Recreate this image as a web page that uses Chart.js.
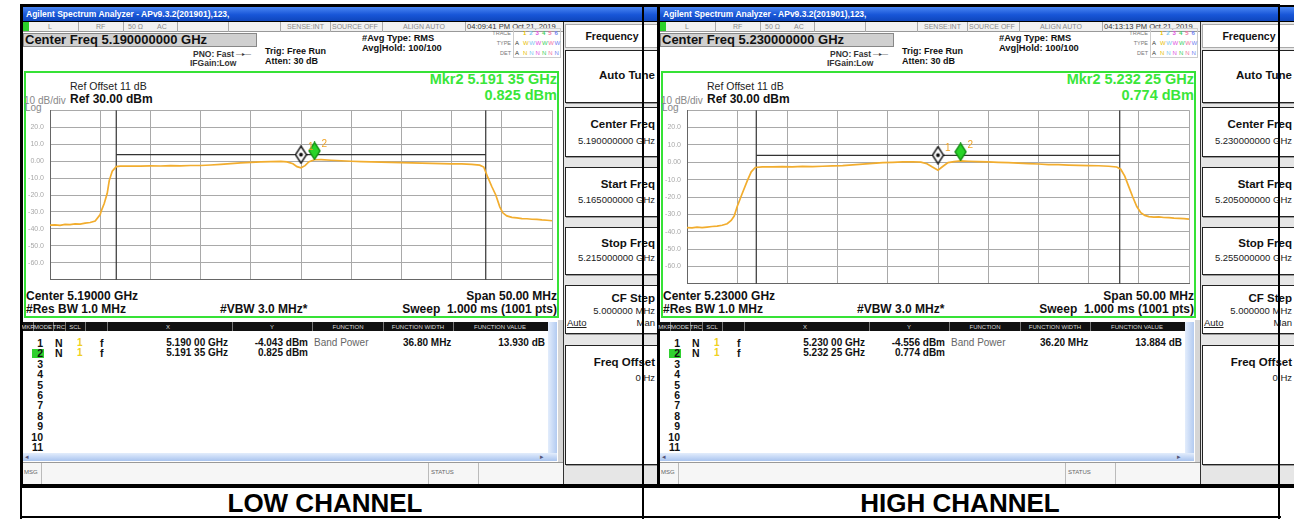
<!DOCTYPE html>
<html>
<head>
<meta charset="utf-8">
<script src="https://cdn.jsdelivr.net/npm/chart.js@4.4.1/dist/chart.umd.min.js"></script>
<style>
  body { margin: 0; background: #fff; }
  #page { position: relative; width: 1300px; height: 519px; overflow: hidden; background: #fff;
          font-family: "Liberation Sans", Arial, sans-serif; color: #111; }
  .abs { position: absolute; white-space: nowrap; box-sizing: border-box; }
</style>
</head>
<body>
<div id="page"></div>
<script>
// sweep settings, MHz
const centersMHz = [5190, 5230];
const spanMHz = 50;
const yTicks = [30, 20, 10, 0, -10, -20, -30, -40, -50, -60, -70];

// trace 1, low channel: offset from start freq (MHz) and level (dBm)
const lowTraceMHz = [
    0, 0.5, 1, 1.5, 2, 2.5, 3, 3.5, 4, 4.5,
    5, 5.1, 5.4, 5.7, 5.9, 6.2, 6.6, 7, 8, 9,
    10, 11, 12, 13, 14, 15, 16, 17, 18, 19,
    20, 21, 22, 23, 23.6, 24.2, 24.6, 25, 25.4, 25.8,
    26.35, 27, 28, 29, 30, 31, 32, 33, 34, 35,
    36, 37, 38, 39, 40, 41, 42, 42.8, 43.2, 43.6,
    44, 44.4, 44.8, 45.1, 45.5, 46, 46.5, 47, 47.5, 48,
    48.5, 49, 49.5, 50];
const lowTraceDbm = [
    -37.8, -37.6, -37.9, -37.3, -37.5, -37.0, -37.2, -36.6, -36.2, -35.4,
    -31.5, -29.5, -25.0, -19.0, -11.5, -6.0, -3.3, -3.0, -2.9, -3.0,
    -2.8, -2.9, -2.7, -2.8, -2.6, -2.6, -2.3, -1.9, -1.5, -1.1,
    -0.8, -0.5, -0.3, -0.2, -0.5, -1.6, -3.3, -4.0, -2.7, -0.4,
    0.8, 0.9, 0.5, 0.2, -0.1, -0.3, -0.5, -0.6, -0.8, -0.9,
    -1.1, -1.2, -1.3, -1.5, -1.6, -1.7, -1.9, -2.4, -3.5, -9.5,
    -15.0, -20.0, -27.0, -30.5, -32.3, -33.2, -33.5, -33.9, -34.0, -34.3,
    -34.4, -34.7, -34.9, -35.2];

// trace 1, high channel
const highTraceMHz = [
    0, 0.5, 1, 1.5, 2, 2.5, 3, 3.5, 4, 4.4,
    4.7, 5.0, 5.5, 6.0, 6.4, 6.8, 7.5, 8.5, 9.5, 10.5,
    11.5, 12.5, 13.5, 14.5, 15.5, 16.5, 17.5, 18.5, 19.5, 20.5,
    21.5, 22.5, 23.3, 23.9, 24.4, 25, 25.5, 26, 26.6, 27.25,
    28, 29, 30, 31, 32, 33, 34, 35, 36, 37,
    38, 39, 40, 41, 42, 42.8, 43.2, 43.6, 44.0, 44.4,
    44.8, 45.2, 45.6, 46, 46.5, 47, 47.5, 48, 48.5, 49,
    49.5, 50];
const highTraceDbm = [
    -37.6, -37.8, -37.4, -37.6, -37.3, -37.0, -36.8, -36.3, -35.4, -33.5,
    -31.0, -25.5, -18.0, -10.7, -5.5, -3.0, -2.6, -2.7, -2.5, -2.6,
    -2.4, -2.5, -2.3, -2.1, -1.9, -1.5, -1.1, -0.6, -0.2, 0.0,
    0.2, 0.3, 0.1, -0.8, -2.6, -4.6, -2.3, -0.2, 0.4, 0.8,
    0.6, 0.4, 0.2, 0.0, -0.2, -0.5, -0.8, -1.0, -1.3, -1.4,
    -1.6, -1.8, -1.9, -2.0, -2.3, -2.7, -4.0, -8.0, -14.0, -20.0,
    -25.5, -29.0, -30.6, -31.3, -31.6, -31.5, -31.8, -31.9, -32.2, -32.3,
    -32.5, -32.8];

// markers (MHz / dBm) and the level the diamonds are drawn at
const lowMarkerMHz = [5190.00, 5191.35];
const lowMarkerDbm = [-4.043, 0.825];
const lowMarkerIconDbm = [3.8, 6.0];
const highMarkerMHz = [5230.00, 5232.25];
const highMarkerDbm = [-4.556, 0.774];
const highMarkerIconDbm = [4.1, 6.0];

// band power function
const bandWidthMHz = [36.80, 36.20];
const bandPowerDb = [13.930, 13.884];
const bandLevelDbm = [3.8, 4.0];
const timeStamps = ['04:09:41 PM Oct 21, 2019', '04:13:13 PM Oct 21, 2019'];

const FONT = '"Liberation Sans", Arial, sans-serif';
const page = document.getElementById('page');

function div(parent, css, html) {
    const d = document.createElement('div');
    d.className = 'abs';
    Object.assign(d.style, css);
    if (html != null) d.innerHTML = html;
    parent.appendChild(d);
    return d;
}
function rect(parent, x, y, w, h, css) {
    return div(parent, Object.assign({ left: x + 'px', top: y + 'px', width: w + 'px', height: h + 'px' }, css));
}
function text(parent, x, y, s, size, css, align) {
    const h = 20;
    const base = { top: (y - h / 2) + 'px', height: h + 'px', lineHeight: h + 'px', fontSize: size + 'px' };
    if (align === 'right') Object.assign(base, { left: (x - 400) + 'px', width: '400px', textAlign: 'right' });
    else if (align === 'center') Object.assign(base, { left: (x - 200) + 'px', width: '400px', textAlign: 'center' });
    else base.left = x + 'px';
    return div(parent, Object.assign(base, css || {}), s);
}

const ghz9 = mhz => (mhz / 1000).toFixed(9) + ' GHz';
const ghzSplit = mhz => {
    const s = (mhz / 1000).toFixed(5);
    return s.slice(0, 5) + ' ' + s.slice(5) + ' GHz';
};

function diamond(fill, stroke, dot) {
    const c = document.createElement('canvas');
    c.width = 13; c.height = 19;
    const g = c.getContext('2d');
    g.beginPath();
    g.moveTo(6.5, 1); g.lineTo(12, 9.5); g.lineTo(6.5, 18); g.lineTo(1, 9.5); g.closePath();
    g.fillStyle = fill; g.fill();
    g.lineWidth = 1.4; g.strokeStyle = stroke; g.stroke();
    if (dot) { g.beginPath(); g.arc(6.5, 9.5, 1.9, 0, Math.PI * 2); g.fillStyle = dot; g.fill(); }
    return c;
}

const markerTags = {
    id: 'markerTags',
    afterDatasetsDraw(chart, args, opts) {
        const { ctx, scales: { x, y } } = chart;
        ctx.save();
        ctx.fillStyle = '#f0a528';
        ctx.font = '10px ' + FONT;
        ctx.textBaseline = 'middle';
        opts.xs.forEach((f, i) => {
            ctx.fillText(String(i + 1), x.getPixelForValue(f) + 7, y.getPixelForValue(opts.ys[i]) - 7);
        });
        ctx.restore();
    }
};

function drawPlot(canvas, c) {
    const start = c.center - spanMHz / 2, stop = c.center + spanMHz / 2;
    const bl = c.center - c.bandWidth / 2, br = c.center + c.bandWidth / 2;
    new Chart(canvas.getContext('2d'), {
        type: 'line',
        data: {
            datasets: [
                {
                    data: c.markerMHz.map((f, i) => ({ x: f, y: c.markerIconDbm[i] })),
                    showLine: false,
                    pointStyle: [diamond('#fff', '#111', '#111'), diamond('#28d428', '#139013', null)],
                    pointRadius: 6,
                },
                {
                    data: c.traceMHz.map((m, i) => ({ x: start + m, y: c.traceDbm[i] })),
                    borderColor: '#f2ad2e', borderWidth: 1.7, pointRadius: 0,
                },
                { data: [{ x: bl, y: c.bandLevel }, { x: br, y: c.bandLevel }], borderColor: '#333', borderWidth: 1.2, pointRadius: 0 },
                { data: [{ x: bl, y: 30 }, { x: bl, y: -70 }], borderColor: '#333', borderWidth: 1.2, pointRadius: 0 },
                { data: [{ x: br, y: 30 }, { x: br, y: -70 }], borderColor: '#333', borderWidth: 1.2, pointRadius: 0 },
            ],
        },
        options: {
            responsive: false,
            animation: false,
            events: [],
            layout: { padding: { top: 7, right: 2, bottom: 7, left: 0 } },
            plugins: {
                legend: { display: false },
                tooltip: { enabled: false },
                markerTags: { xs: c.markerMHz, ys: c.markerIconDbm },
            },
            scales: {
                x: {
                    type: 'linear', min: start, max: stop,
                    afterFit: s => { s.height = 0; },
                    ticks: { display: false, stepSize: 5 },
                    grid: { color: '#a9a9a9', drawTicks: false },
                    border: { color: '#666' },
                },
                y: {
                    min: -70, max: 30,
                    afterFit: s => { s.width = 25; },
                    afterBuildTicks: s => { s.ticks = yTicks.map(v => ({ value: v })); },
                    ticks: {
                        padding: 6, color: '#a8a8a8', font: { size: 7, family: FONT },
                        callback: v => (v === 30 || v === -70) ? '' : (v === 0 ? '0.00' : v.toFixed(1)),
                    },
                    grid: { color: '#a9a9a9', drawTicks: false },
                    border: { color: '#666' },
                },
            },
        },
        plugins: [markerTags],
    });
}

function buildScreen(ox, c) {
    const scr = div(page, { left: ox + 'px', top: '0px', width: '637px', height: '488px', overflow: 'hidden' });
    rect(scr, 0, 5, 637, 483, { background: '#000' });
    rect(scr, 3, 22, 634, 462, { background: '#fff' });

    // title bar
    rect(scr, 3, 7, 634, 14, { background: 'linear-gradient(#4a86f2, #1856d8 55%, #0f46bd)' });
    text(scr, 6, 14, 'Agilent Spectrum Analyzer - APv9.3.2(201901),123,', 8.5, { color: '#fff', fontWeight: 'bold' });

    // status row
    rect(scr, 3, 22, 540, 10, { background: '#f1f1f1', borderBottom: '1px solid #999' });
    rect(scr, 3, 22, 6, 9, { background: '#2bd12b' });
    [58, 103, 157, 208, 260, 310, 362, 445].forEach(x => rect(scr, x, 22, 1, 10, { background: '#aaa' }));
    const st = { color: '#8a8a8a' };
    text(scr, 28, 27, 'L', 7, st);
    text(scr, 76, 27, 'RF', 7, st);
    text(scr, 108, 27, '50 Ω', 7, st);
    text(scr, 137, 27, 'AC', 7, st);
    text(scr, 267, 27, 'SENSE:INT', 7, st);
    text(scr, 312, 27, 'SOURCE OFF', 7, st);
    text(scr, 383, 27, 'ALIGN AUTO', 7, st);
    text(scr, 447, 27, c.time, 7.6, { color: '#333' });

    // center freq
    rect(scr, 3, 33, 234, 14, { background: '#d0d0d0', border: '1px solid #888' });
    text(scr, 5, 40, 'Center Freq ' + ghz9(c.center), 13, { fontWeight: 'bold' });
    text(scr, 173, 54, 'PNO: Fast', 8.5, { fontWeight: 'bold', color: '#333' });
    text(scr, 216, 54, '—▸—', 6, { color: '#333' });
    text(scr, 170, 63, 'IFGain:Low', 8.5, { fontWeight: 'bold', color: '#333' });
    text(scr, 245, 51, 'Trig: Free Run', 9, { fontWeight: 'bold' });
    text(scr, 245, 61, 'Atten: 30 dB', 9, { fontWeight: 'bold' });
    text(scr, 342, 38, '#Avg Type: RMS', 9.3, { fontWeight: 'bold' });
    text(scr, 342, 48, 'Avg|Hold: 100/100', 9.3, { fontWeight: 'bold' });

    // trace / type / det block
    text(scr, 491, 33, 'TRACE', 5.5, { color: '#777' }, 'right');
    text(scr, 491, 43, 'TYPE', 5.5, { color: '#777' }, 'right');
    text(scr, 491, 53, 'DET', 5.5, { color: '#777' }, 'right');
    rect(scr, 493, 28, 48, 30, { border: '1px solid #ccc' });
    const trCol = ['#e8c000', '#7ac8f0', '#e050e0', '#40d060', '#f070a0', '#7080f0'];
    trCol.forEach((col, i) => {
        text(scr, 503 + i * 6.3, 33, String(i + 1), 6, { color: col, fontWeight: 'bold' });
        text(scr, 503 + i * 6.3, 43, 'W', 6, { color: col });
        text(scr, 503 + i * 6.3, 53, 'N', 6, { color: col });
    });
    text(scr, 495, 43, 'A', 6, { color: '#333' });
    text(scr, 495, 53, 'A', 6, { color: '#333' });

    // menu column
    rect(scr, 543, 22, 94, 462, { background: '#e6e6e6', borderLeft: '1.5px solid #333' });
    rect(scr, 545, 24, 95, 24, { background: '#fff', border: '1px solid #aaa' });
    text(scr, 592, 36, 'Frequency', 10.5, { fontWeight: 'bold' }, 'center');
    const keys = [
        { y: 50, h: 53, label: 'Auto Tune', ly: 75 },
        { y: 107, h: 50, label: 'Center Freq', ly: 124, val: ghz9(c.center), vy: 141 },
        { y: 167, h: 50, label: 'Start Freq', ly: 184, val: ghz9(c.center - spanMHz / 2), vy: 200 },
        { y: 227, h: 48, label: 'Stop Freq', ly: 243, val: ghz9(c.center + spanMHz / 2), vy: 258 },
        { y: 285, h: 49, label: 'CF Step', ly: 298, val: '5.000000 MHz', vy: 311 },
        { y: 345, h: 120, label: 'Freq Offset', ly: 362, val: '0 Hz', vy: 378 },
    ];
    keys.forEach(k => {
        rect(scr, 545, k.y, 96, k.h, { background: '#fff', border: '1.5px solid #222', boxShadow: '1px 1px 0 #999' });
        text(scr, 635, k.ly, k.label, 11.5, { fontWeight: 'bold' }, 'right');
        if (k.val) text(scr, 635, k.vy, k.val, 9.5, { color: '#222' }, 'right');
    });
    text(scr, 547, 323, 'Auto', 9.5, { textDecoration: 'underline', color: '#222' });
    text(scr, 635, 323, 'Man', 9.5, { color: '#222' }, 'right');

    // plot frame
    rect(scr, 4, 71, 535, 247, { border: '2px solid #36e236', background: '#fff' });
    text(scr, 50, 86, 'Ref Offset 11 dB', 10.5, { color: '#222' });
    text(scr, 50, 99, 'Ref 30.00 dBm', 12, { fontWeight: 'bold' });
    text(scr, 4, 101, '10 dB/div', 10, { color: '#888' });
    text(scr, 5, 108, 'Log', 10, { color: '#888' });
    text(scr, 537, 79, 'Mkr2 ' + ghzSplit(c.markerMHz[1]), 14.5, { fontWeight: 'bold', color: '#3ae63a' }, 'right');
    text(scr, 537, 95, c.markerDbm[1].toFixed(3) + ' dBm', 14.5, { fontWeight: 'bold', color: '#3ae63a' }, 'right');
    text(scr, 6, 296, 'Center ' + (c.center / 1000).toFixed(5) + ' GHz', 12, { fontWeight: 'bold' });
    text(scr, 6, 309, '#Res BW 1.0 MHz', 12, { fontWeight: 'bold' });
    text(scr, 200, 309, '#VBW 3.0 MHz*', 12, { fontWeight: 'bold' });
    text(scr, 537, 296, 'Span 50.00 MHz', 12, { fontWeight: 'bold' }, 'right');
    text(scr, 537, 309, 'Sweep&nbsp;&nbsp;1.000 ms (1001 pts)', 12, { fontWeight: 'bold' }, 'right');

    const cv = document.createElement('canvas');
    const ch = c.gridBottom - 100 + 7;
    cv.width = 534; cv.height = ch;
    Object.assign(cv.style, { position: 'absolute', left: '5px', top: '100px', width: '534px', height: ch + 'px' });
    scr.appendChild(cv);
    drawPlot(cv, c);

    // marker table
    rect(scr, 538, 320, 5, 143, { background: '#d6d6d6' });
    rect(scr, 3, 322, 525, 9, { background: '#111' });
    [13, 33, 45, 65, 87, 212, 292, 363, 433].forEach(x => rect(scr, x, 322, 1, 9, { background: '#777' }));
    const hd = { color: '#ddd' };
    [['MKR', 8], ['MODE', 23], ['TRC', 39], ['SCL', 55], ['X', 148], ['Y', 252],
     ['FUNCTION', 328], ['FUNCTION WIDTH', 398], ['FUNCTION VALUE', 480]]
        .forEach(([s, x]) => text(scr, x, 326.5, s, 6, hd, 'center'));
    for (let i = 1; i <= 11; i++) {
        const y = 343 + (i - 1) * 10.4;
        if (i === 2) rect(scr, 12, y - 4.5, 12, 9.5, { background: '#2fd02f' });
        text(scr, 23, y, String(i), 10.5, { fontWeight: 'bold' }, 'right');
    }
    c.markerMHz.forEach((f, i) => {
        const y = 343 + i * 10.4;
        text(scr, 35, y, 'N', 10.5, { fontWeight: 'bold' });
        text(scr, 57, y, '1', 10, { color: '#f0d020', fontWeight: 'bold' });
        text(scr, 80, y, 'f', 10.5, { fontWeight: 'bold' });
        text(scr, 208, y, ghzSplit(f), 10, { fontWeight: 'bold' }, 'right');
        text(scr, 288, y, c.markerDbm[i].toFixed(3) + ' dBm', 10, { fontWeight: 'bold' }, 'right');
    });
    text(scr, 294, 343, 'Band Power', 10, { color: '#666' });
    text(scr, 383, 343, c.bandWidth.toFixed(2) + ' MHz', 10, { fontWeight: 'bold' });
    text(scr, 525, 343, c.bandPower.toFixed(3) + ' dB', 10, { fontWeight: 'bold' }, 'right');

    // scroll bars
    rect(scr, 528, 322, 9, 131, { background: 'linear-gradient(90deg, #e3edfc, #b3cbf1)' });
    rect(scr, 3, 453, 534, 8, { background: 'linear-gradient(#e3edfc, #a9c4ef)' });
    text(scr, 5, 457, '◂', 7, { color: '#557' });
    text(scr, 520, 457, '▸', 7, { color: '#557' });

    // message row
    rect(scr, 3, 462, 540, 22, { background: '#f6f6f6', borderTop: '1px solid #999' });
    [21, 408, 458].forEach(x => rect(scr, x, 463, 1, 21, { background: '#bbb' }));
    text(scr, 4, 472, 'MSG', 6, { color: '#666' });
    text(scr, 411, 472, 'STATUS', 6, { color: '#666' });
}

buildScreen(20, {
    center: centersMHz[0], time: timeStamps[0], gridBottom: 283,
    traceMHz: lowTraceMHz, traceDbm: lowTraceDbm,
    markerMHz: lowMarkerMHz, markerDbm: lowMarkerDbm, markerIconDbm: lowMarkerIconDbm,
    bandWidth: bandWidthMHz[0], bandPower: bandPowerDb[0], bandLevel: bandLevelDbm[0],
});
buildScreen(657, {
    center: centersMHz[1], time: timeStamps[1], gridBottom: 287,
    traceMHz: highTraceMHz, traceDbm: highTraceDbm,
    markerMHz: highMarkerMHz, markerDbm: highMarkerDbm, markerIconDbm: highMarkerIconDbm,
    bandWidth: bandWidthMHz[1], bandPower: bandPowerDb[1], bandLevel: bandLevelDbm[1],
});

// table frame around the two screenshots
rect(page, 20, 4, 1260, 1.5, { background: '#000' });
rect(page, 19.5, 4, 2, 515, { background: '#000' });
rect(page, 642, 4, 2, 515, { background: '#000' });
rect(page, 1278, 4, 2, 515, { background: '#000' });
rect(page, 19.5, 516, 1261, 2, { background: '#000' });

text(page, 325, 503, 'LOW CHANNEL', 26, { fontWeight: 'bold', color: '#000' }, 'center');
text(page, 960, 503, 'HIGH CHANNEL', 26, { fontWeight: 'bold', color: '#000' }, 'center');
</script>
</body>
</html>
